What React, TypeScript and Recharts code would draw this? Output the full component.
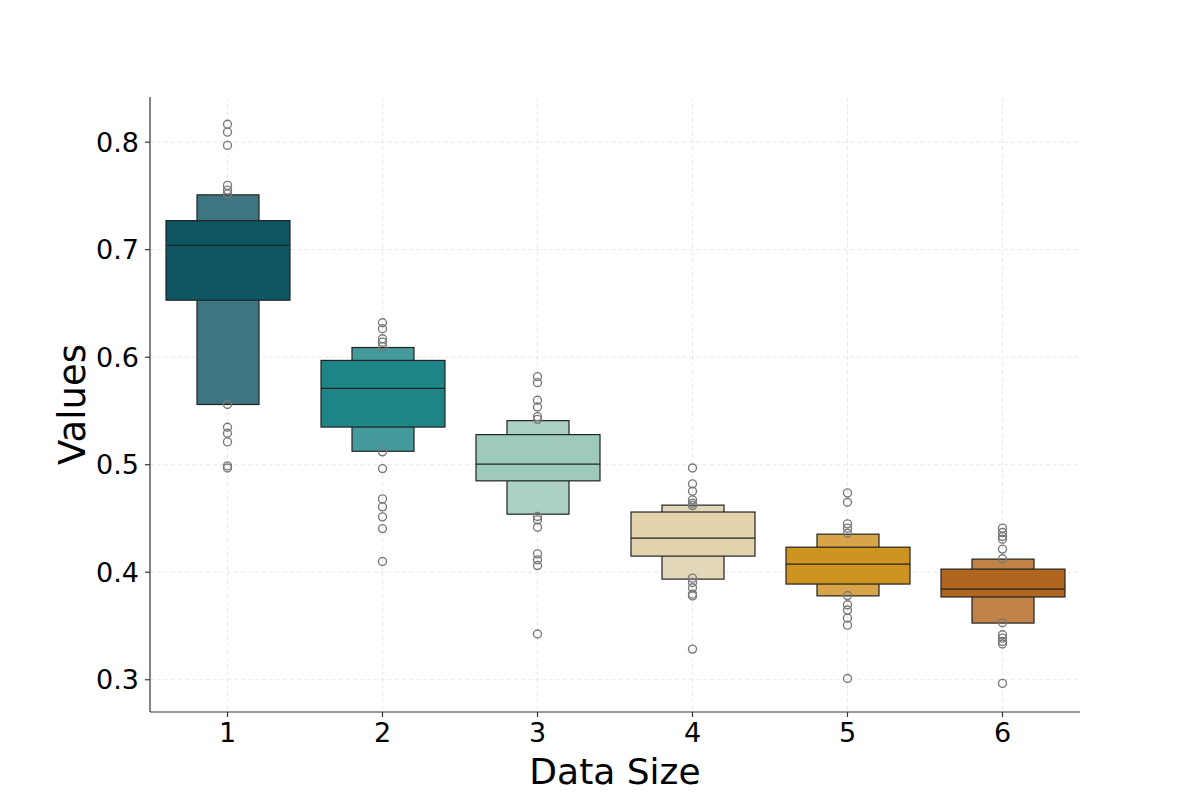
import {
  Bar,
  CartesianGrid,
  Cell,
  ComposedChart,
  Label,
  Scatter,
  XAxis,
  YAxis,
} from "recharts";

const sizes = [1, 2, 3, 4, 5, 6];

// letter-value boxes
const outerLow = [0.556, 0.5125, 0.454, 0.3936, 0.378, 0.3527];
const outerHigh = [0.751, 0.609, 0.541, 0.4624, 0.4354, 0.4122];
const innerLow = [0.653, 0.535, 0.485, 0.415, 0.389, 0.377];
const innerHigh = [0.727, 0.597, 0.528, 0.456, 0.4233, 0.4029];
const medians = [0.704, 0.571, 0.5005, 0.4317, 0.4075, 0.3843];

const outliers = [
  [0.8167, 0.8093, 0.797, 0.7598, 0.7554, 0.752, 0.556, 0.5348, 0.5293, 0.5212, 0.4989, 0.497],
  [0.632, 0.6265, 0.6172, 0.614, 0.6098, 0.512, 0.4964, 0.4682, 0.4608, 0.4515, 0.4406, 0.41],
  [0.5819, 0.5763, 0.56, 0.5537, 0.5447, 0.5422, 0.4518, 0.4487, 0.4419, 0.4171, 0.4115, 0.4062, 0.3425],
  [0.497, 0.4822, 0.4753, 0.4673, 0.4642, 0.462, 0.3945, 0.3904, 0.3855, 0.3796, 0.378, 0.3285],
  [0.4738, 0.4651, 0.445, 0.441, 0.4363, 0.3783, 0.3697, 0.3648, 0.3573, 0.3508, 0.3012],
  [0.441, 0.4369, 0.4332, 0.4307, 0.4215, 0.4125, 0.353, 0.3418, 0.3387, 0.3356, 0.3332, 0.2966],
];

const yTicks = [0.3, 0.4, 0.5, 0.6, 0.7, 0.8];

const innerColors = ["#0f5664", "#1d8487", "#9dcaba", "#e2d3ad", "#cf9420", "#b0661e"];
const outerColors = ["#3d7680", "#459a9b", "#add0c4", "#e2d7b8", "#d8a44a", "#bf8348"];

const rows = sizes.map((size, i) => ({
  size,
  outer: [outerLow[i], outerHigh[i]],
  inner: [innerLow[i], innerHigh[i]],
  median: medians[i],
}));

const outlierPoints = sizes.flatMap((size, i) =>
  outliers[i].map((value) => ({ size, value }))
);

const font = "'DejaVu Sans', sans-serif";
const tickStyle = { fill: "#000", fontSize: 27, fontFamily: font };

function InnerBox(props: any) {
  const { x, y, width, height, fill, payload } = props;
  const top = Math.min(y, y + height);
  const h = Math.abs(height);
  const [lo, hi] = payload.inner;
  const my = top + (h * (hi - payload.median)) / (hi - lo);
  return (
    <g>
      <rect x={x} y={top} width={width} height={h} fill={fill} stroke="#222" strokeWidth={1.2} />
      <line x1={x} x2={x + width} y1={my} y2={my} stroke="#222" strokeWidth={1.2} />
    </g>
  );
}

function OuterBox(props: any) {
  const { x, y, width, height, fill } = props;
  return (
    <rect
      x={x}
      y={Math.min(y, y + height)}
      width={width}
      height={Math.abs(height)}
      fill={fill}
      stroke="#222"
      strokeWidth={1.2}
    />
  );
}

function Ring(props: any) {
  return (
    <circle cx={props.cx} cy={props.cy} r={4} fill="none" stroke="#7a7a7a" strokeWidth={1.4} />
  );
}

export default function App() {
  return (
    <div style={{ position: "absolute", left: 0, top: 0, fontFamily: font, background: "#fff" }}>
      <ComposedChart
        width={1200}
        height={800}
        data={rows}
        margin={{ top: 97, right: 120, bottom: 0, left: 0 }}
      >
        <XAxis
          xAxisId="main"
          dataKey="size"
          type="number"
          domain={[0.5, 6.5]}
          ticks={sizes}
          height={88}
          tick={tickStyle}
          tickSize={5}
          tickMargin={6}
          axisLine={{ stroke: "#333", strokeWidth: 1.2 }}
          tickLine={{ stroke: "#333", strokeWidth: 1.2 }}
        >
          <Label
            value="Data Size"
            position="center"
            dy={15}
            style={{ fill: "#000", fontSize: 36, fontFamily: font }}
          />
        </XAxis>
        <XAxis xAxisId="outer" dataKey="size" type="number" domain={[0.5, 6.5]} hide />
        <YAxis
          type="number"
          domain={[0.27, 0.842]}
          ticks={yTicks}
          allowDataOverflow
          width={150}
          tick={tickStyle}
          tickSize={5}
          tickMargin={6}
          tickFormatter={(v: number) => v.toFixed(1)}
          axisLine={{ stroke: "#333", strokeWidth: 1.2 }}
          tickLine={{ stroke: "#333", strokeWidth: 1.2 }}
        >
          <Label
            value="Values"
            angle={-90}
            position="center"
            dx={-3}
            style={{ fill: "#000", fontSize: 37, fontFamily: font, textAnchor: "middle" }}
          />
        </YAxis>
        <Bar
          xAxisId="outer"
          dataKey="outer"
          barSize={62}
          shape={<OuterBox />}
          isAnimationActive={false}
        >
          {rows.map((r, i) => (
            <Cell key={r.size} fill={outerColors[i]} />
          ))}
        </Bar>
        <Bar
          xAxisId="main"
          dataKey="inner"
          barSize={124}
          shape={<InnerBox />}
          isAnimationActive={false}
        >
          {rows.map((r, i) => (
            <Cell key={r.size} fill={innerColors[i]} />
          ))}
        </Bar>
        <CartesianGrid
          xAxisId="main"
          syncWithTicks
          strokeDasharray="4 3"
          stroke="rgba(170,170,170,0.35)"
          strokeWidth={0.8}
        />
        <Scatter
          xAxisId="main"
          data={outlierPoints}
          dataKey="value"
          shape={<Ring />}
          isAnimationActive={false}
        />
      </ComposedChart>
    </div>
  );
}
